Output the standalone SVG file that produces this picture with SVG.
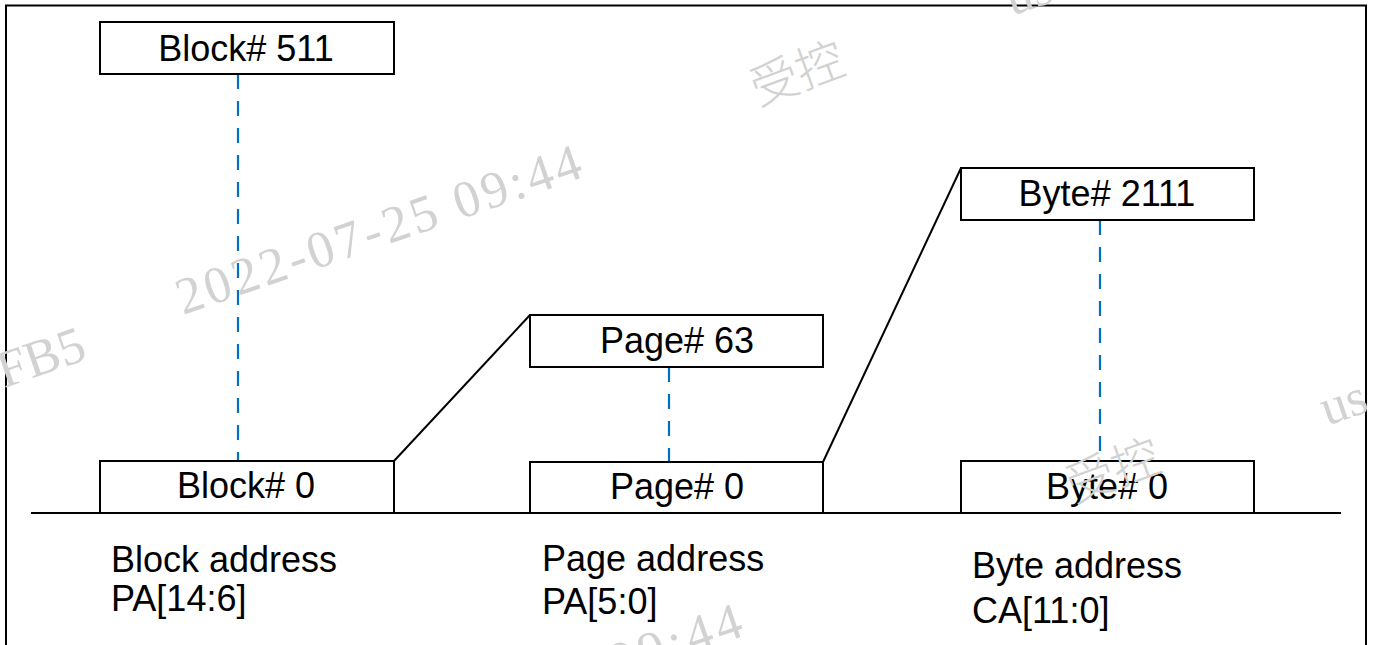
<svg xmlns="http://www.w3.org/2000/svg" width="1373" height="645" viewBox="0 0 1373 645">
<style>
.box{fill:#fff;stroke:#000;stroke-width:2}
.lbl{font-family:"Liberation Sans",Arial,sans-serif;font-size:36px;fill:#000}
.mid{text-anchor:middle}
.dash{stroke:#0070c0;stroke-width:2.2;stroke-dasharray:15 12;fill:none}
.ln{stroke:#000;stroke-width:2;fill:none}
.wm{font-family:"Liberation Serif","Noto Sans CJK SC",serif;font-size:52px;fill:#d2d2d2}
.wmc{font-family:"Noto Sans CJK SC",sans-serif;font-size:48px;fill:#d2d2d2;font-weight:300}
</style>
<rect width="1373" height="645" fill="#fff"/>
<g id="frame">
<path class="ln" d="M6,645 V5.5 H1366 V645" stroke-width="2.5"/>
<line class="ln" x1="31" y1="513" x2="1341" y2="513"/>
</g>
<g id="connectors">
<line class="dash" x1="238" y1="74" x2="238" y2="461"/>
<line class="dash" x1="669" y1="367" x2="669" y2="462"/>
<line class="dash" x1="1100" y1="220" x2="1100" y2="461"/>
<line class="ln" x1="394" y1="461" x2="530" y2="315"/>
<line class="ln" x1="823" y1="462" x2="961" y2="168"/>
</g>
<g id="block511">
<rect class="box" x="100" y="22" width="294" height="52"/>
<text class="lbl mid" x="246" y="61">Block# 511</text>
</g>
<g id="block0">
<rect class="box" x="100" y="461" width="294" height="52"/>
<text class="lbl mid" x="246" y="498">Block# 0</text>
</g>
<g id="page63">
<rect class="box" x="530" y="315" width="293" height="52"/>
<text class="lbl mid" x="677" y="353">Page# 63</text>
</g>
<g id="page0">
<rect class="box" x="530" y="462" width="293" height="51"/>
<text class="lbl mid" x="677" y="499">Page# 0</text>
</g>
<g id="byte2111">
<rect class="box" x="961" y="168" width="293" height="52"/>
<text class="lbl mid" x="1107" y="206">Byte# 2111</text>
</g>
<g id="byte0">
<rect class="box" x="961" y="461" width="293" height="52"/>
<text class="lbl mid" x="1107" y="499">Byte# 0</text>
</g>
<g id="block-address">
<text class="lbl" x="111" y="572">Block address</text>
<text class="lbl" x="111" y="611">PA[14:6]</text>
</g>
<g id="page-address">
<text class="lbl" x="542" y="571">Page address</text>
<text class="lbl" x="542" y="614">PA[5:0]</text>
</g>
<g id="byte-address">
<text class="lbl" x="972" y="578">Byte address</text>
<text class="lbl" x="972" y="623">CA[11:0]</text>
</g>
<g id="watermarks">
<text class="wm" transform="translate(183,315) rotate(-19)" textLength="425" lengthAdjust="spacing">2022-07-25 09:44</text>
<text class="wm" transform="translate(616,680) rotate(-19)" textLength="137" lengthAdjust="spacing">09:44</text>
<text class="wm" transform="translate(4,388) rotate(-19)">FB5</text>
<text class="wm" transform="translate(1012,16) rotate(-19)">us</text>
<text class="wm" transform="translate(1327,426) rotate(-19)">us</text>
<text class="wmc" transform="translate(758,106) rotate(-20)">受控</text>
<text class="wmc" transform="translate(1074,503) rotate(-20)">受控</text>
</g>
</svg>
